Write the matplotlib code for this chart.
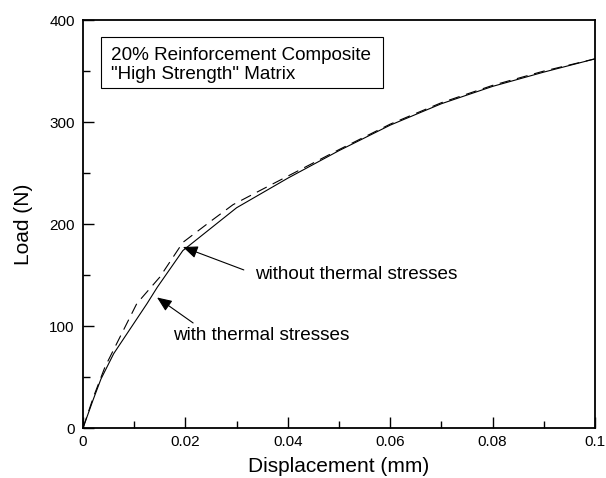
import matplotlib
matplotlib.use("Agg")
import matplotlib.pyplot as plt
from matplotlib.ticker import MultipleLocator
from matplotlib.patches import Rectangle

plt.rcParams['font.family'] = ['Liberation Sans', 'DejaVu Sans']

# with thermal stresses (solid)
x_with = [0, 0.002, 0.0035, 0.006, 0.0125, 0.0145, 0.0195, 0.030, 0.040, 0.050, 0.060, 0.070, 0.080, 0.090, 0.100]
y_with = [0, 28, 48, 73, 122, 138, 174, 216, 245, 272, 297, 318, 335, 349, 362]

# without thermal stresses (dashed)
x_without = [0, 0.002, 0.0043, 0.0105, 0.015, 0.0195, 0.025, 0.0293, 0.035, 0.040, 0.050, 0.060, 0.070, 0.080, 0.090, 0.100]
y_without = [0, 30, 60, 122, 148, 182, 203, 219, 234, 247, 273, 298, 319, 336, 350, 362]

x_ticks = [0, 0.02, 0.04, 0.06, 0.08, 0.1]
x_tick_labels = ["0", "0.02", "0.04", "0.06", "0.08", "0.1"]
y_ticks = [0, 100, 200, 300, 400]
y_tick_labels = ["0", "100", "200", "300", "400"]

fig = plt.figure(figsize=(6.06, 4.78), dpi=100)
ax = fig.add_axes([0.137, 0.1046, 0.845, 0.8534])

ax.plot(x_with, y_with, color='black', lw=0.8)
ax.plot(x_without, y_without, color='black', lw=0.8, linestyle=(0, (10, 6)))

ax.set_xlim(0, 0.1)
ax.set_ylim(0, 400)
ax.set_xticks(x_ticks)
ax.set_xticklabels(x_tick_labels)
ax.set_yticks(y_ticks)
ax.set_yticklabels(y_tick_labels)
ax.xaxis.set_minor_locator(MultipleLocator(0.01))
ax.yaxis.set_minor_locator(MultipleLocator(50))
ax.tick_params(which='both', direction='in', top=False, right=False, width=1.0, labelsize=11)
ax.tick_params(which='major', length=8)
ax.tick_params(which='minor', length=5)
ax.tick_params(axis='x', pad=5)
ax.tick_params(axis='y', pad=6)
for s in ax.spines.values():
    s.set_linewidth(1.3)

ax.set_xlabel("Displacement (mm)", fontsize=15, labelpad=6)
ax.set_ylabel("Load (N)", fontsize=15, labelpad=12)

# title box
ax.add_patch(Rectangle((0.0035, 333), 0.0551, 50, facecolor='white', edgecolor='black', lw=0.8, zorder=3))
ax.text(0.0055, 361, "20% Reinforcement Composite", fontsize=13.6, va='baseline', ha='left', zorder=4)
ax.text(0.0055, 342, "\"High Strength\" Matrix", fontsize=13.6, va='baseline', ha='left', zorder=4)

arrow = dict(arrowstyle='-|>,head_length=0.6,head_width=0.25', color='black', lw=0.8,
             mutation_scale=15, shrinkA=0, shrinkB=0)
ax.annotate("", xy=(0.0195, 177.5), xytext=(0.0314, 155), arrowprops=arrow)
ax.text(0.0336, 151, "without thermal stresses", fontsize=13.6, va='center', ha='left')
ax.annotate("", xy=(0.01445, 128), xytext=(0.0215, 103), arrowprops=arrow)
ax.text(0.0176, 91, "with thermal stresses", fontsize=13.6, va='center', ha='left')

fig.savefig("out.png", dpi=100)
